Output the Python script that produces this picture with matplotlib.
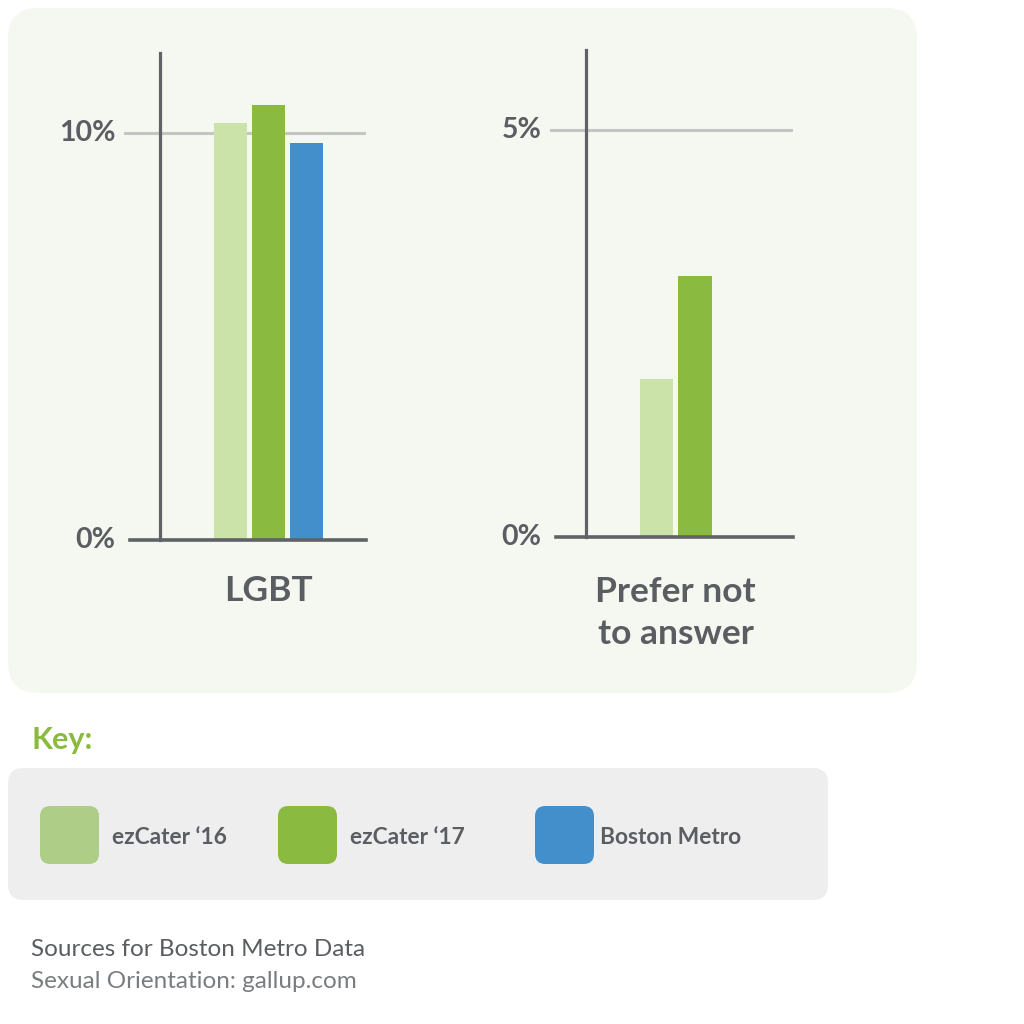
import matplotlib
matplotlib.use("Agg")
import matplotlib.pyplot as plt
from matplotlib.patches import FancyBboxPatch
import numpy as np

plt.rcParams['font.family'] = ['Lato', 'DejaVu Sans']

# ---- data ----
series = ["ezCater \u201816", "ezCater \u201817", "Boston Metro"]
colors = ["#cbe2a9", "#8aba40", "#438fcb"]
key_colors = ["#aecd87", "#8aba40", "#438fcb"]
lgbt_values = [10.25, 10.7, 9.75]          # percent
prefer_values = [1.94, 3.2]                # percent (ezCater only)
lgbt_ticks = [0, 10]
lgbt_ticklabels = ["0%", "10%"]
prefer_ticks = [0, 5]
prefer_ticklabels = ["0%", "5%"]

W = H = 1024
fig = plt.figure(figsize=(10.24, 10.24), dpi=100)
fig.patch.set_facecolor("white")

def fx(px):
    return px / W

def fy(py):
    return 1 - py / H

axis_col = "#5f6266"
grid_col = "#c4c6c3"
text_col = "#5a5d61"

# background panels
panel = FancyBboxPatch((fx(8) + 0.03, fy(693) + 0.03), fx(909) - 0.06, (685 / H) - 0.06,
                       boxstyle="round,pad=0.03", transform=fig.transFigure,
                       facecolor="#f5f8f0", edgecolor="none", zorder=-2)
fig.patches.append(panel)
keybox = FancyBboxPatch((fx(8) + 0.015, fy(900) + 0.015), fx(820) - 0.03, (132 / H) - 0.03,
                        boxstyle="round,pad=0.015", transform=fig.transFigure,
                        facecolor="#eeeeee", edgecolor="none", zorder=-2)
fig.patches.append(keybox)


def make_panel(left_px, right_px, top_px, base_px, values, ymax, ticks, ticklabels,
               xmin_idx, xmax_idx, spine_idx, base_start_idx, label, label_fs, label_pad):
    ax = fig.add_axes([fx(left_px), fy(base_px), fx(right_px - left_px), (base_px - top_px) / H])
    ax.set_facecolor("none")
    x = np.arange(len(values))
    ax.bar(x, values, width=0.87, color=colors[:len(values)], edgecolor="none", zorder=3)
    ax.set_xlim(xmin_idx, xmax_idx)
    ax.set_ylim(0, ymax)
    for s in ["top", "right"]:
        ax.spines[s].set_visible(False)
    ax.spines["left"].set_position(("data", spine_idx))
    ax.spines["left"].set_color(axis_col)
    ax.spines["left"].set_linewidth(2.3)
    ax.spines["left"].set_zorder(4)
    ax.spines["bottom"].set_bounds(base_start_idx, xmax_idx)
    ax.spines["bottom"].set_color(axis_col)
    ax.spines["bottom"].set_linewidth(2.6)
    ax.spines["bottom"].set_zorder(5)
    ax.axhline(ticks[1], color=grid_col, lw=2.2, zorder=2)
    ax.set_yticks(ticks)
    ax.set_yticklabels([])
    ax.tick_params(axis="y", length=0)
    for tv, tl in zip(ticks, ticklabels):
        ax.annotate(tl, xy=(0, tv), xycoords=("axes fraction", "data"),
                    xytext=(-6, 0), textcoords="offset points",
                    ha="right", va="center", fontsize=20.5, fontweight="bold",
                    color=text_col)
    ax.set_xticks([(len(values) - 1) / 2])
    ax.set_xticklabels([label], fontsize=label_fs, fontweight="bold", color=text_col,
                       linespacing=1.4)
    ax.tick_params(axis="x", length=0, pad=label_pad)
    return ax

ax1 = make_panel(124, 366, 53, 540, lgbt_values, 11.97, lgbt_ticks, lgbt_ticklabels,
                 -2.803, 3.566, -1.855, -2.645, "LGBT", 25.5, 25)
ax2 = make_panel(550, 793, 50, 537, prefer_values, 5.98, prefer_ticks, prefer_ticklabels,
                 -2.766, 3.545, -1.82, -2.61, "Prefer not\nto answer", 25.5, 28)

# key
fig.text(fx(32), fy(740), "Key:", fontsize=22, fontweight="bold", color="#8aba40",
         ha="left", va="center")
swatch_x = [40, 278, 535]
label_x = [112, 350, 600]
for sx, lx, c, name in zip(swatch_x, label_x, key_colors, series):
    sw = FancyBboxPatch((fx(sx) + 0.01, fy(864) + 0.01), fx(59) - 0.02, (58 / H) - 0.02,
                        boxstyle="round,pad=0.01", transform=fig.transFigure,
                        facecolor=c, edgecolor="none", zorder=2)
    fig.patches.append(sw)
    fig.text(fx(lx), fy(837), name, fontsize=16.4, fontweight="bold", color=text_col,
             ha="left", va="center")

fig.text(fx(31), fy(950), "Sources for Boston Metro Data", fontsize=17.5, color="#5a5d61",
         ha="left", va="center")
fig.text(fx(31), fy(981), "Sexual Orientation: gallup.com", fontsize=17.5, color="#7a7d80",
         ha="left", va="center")

fig.savefig("out.png", dpi=100, facecolor="white")
